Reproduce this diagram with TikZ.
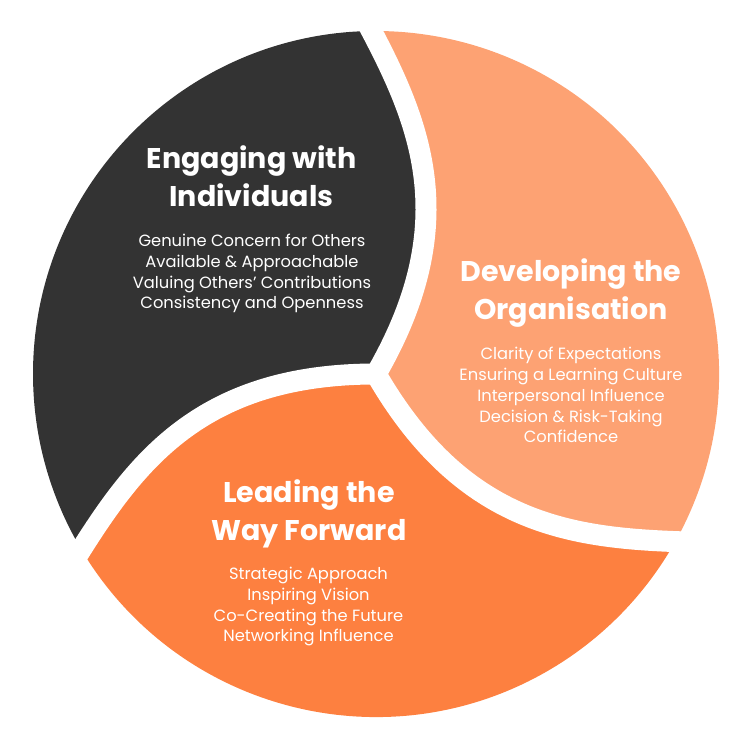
\documentclass[tikz,border=0pt]{standalone}
\usepackage{fontspec}
\setmainfont{Poppins}
\definecolor{darkseg}{HTML}{333333}
\definecolor{lightseg}{HTML}{FDA273}
\definecolor{orangeseg}{HTML}{FD8040}
\begin{document}
\begin{tikzpicture}[x=1pt,y=1pt,
  gapline/.style={draw=white,line width=21pt},
  titletext/.style={text=white,align=center,anchor=base,inner sep=0pt,font=\bfseries\fontsize{28.5}{38.5}\selectfont},
  bodytext/.style={text=white,align=center,anchor=base,inner sep=0pt,font=\fontsize{16.3}{20.8}\selectfont}]
\useasboundingbox (0,0) rectangle (750,750);
\begin{scope}[shift={(376,376)}]
  \fill[darkseg] (0,0) .. controls (85,147.2) and (46.6,245.9) .. (-4.5,343)
     arc[start angle=90.75, end angle=210.75, radius=343]
     .. controls (-236.2,-82.6) and (-170,0) .. (0,0) -- cycle;
  \fill[lightseg] (0,0) .. controls (85,-147.2) and (189.6,-163.3) .. (299.3,-167.6)
     arc[start angle=-29.25, end angle=90.75, radius=343]
     .. controls (46.6,245.9) and (85,147.2) .. (0,0) -- cycle;
  \fill[orangeseg] (0,0) .. controls (-170,0) and (-236.2,-82.6) .. (-294.8,-175.4)
     arc[start angle=210.75, end angle=330.75, radius=343]
     .. controls (189.6,-163.3) and (85,-147.2) .. (0,0) -- cycle;
  \coordinate (hub) at (0,0);
  \coordinate (endA) at (-18.5,369.5);
  \coordinate (endB) at (-310.8,-200.8);
  \coordinate (endC) at (329.3,-168.8);
  \path[gapline] (hub) .. controls (85,147.2) and (46.6,245.9) .. (-4.5,343) -- (endA);
  \path[gapline] (hub) .. controls (-170,0) and (-236.2,-82.6) .. (-294.8,-175.4) -- (endB);
  \path[gapline] (hub) .. controls (85,-147.2) and (189.6,-163.3) .. (299.3,-167.6) -- (endC);
\end{scope}
\node[titletext] (t1) at (251.5,543) {Engaging with\\Individuals};
\node[bodytext] (b1) at (252,441) {Genuine Concern for Others\\Available \& Approachable\\Valuing Others’ Contributions\\Consistency and Openness};
\node[titletext] (t2) at (571,430) {Developing the\\Organisation};
\node[bodytext] (b2) at (571,307) {Clarity of Expectations\\Ensuring a Learning Culture\\Interpersonal Influence\\Decision \& Risk-Taking\\Confidence};
\node[titletext] (t3) at (309,209) {Leading the\\Way Forward};
\node[bodytext] (b3) at (308.5,108) {Strategic Approach\\Inspiring Vision\\Co-Creating the Future\\Networking Influence};
\end{tikzpicture}
\end{document}
